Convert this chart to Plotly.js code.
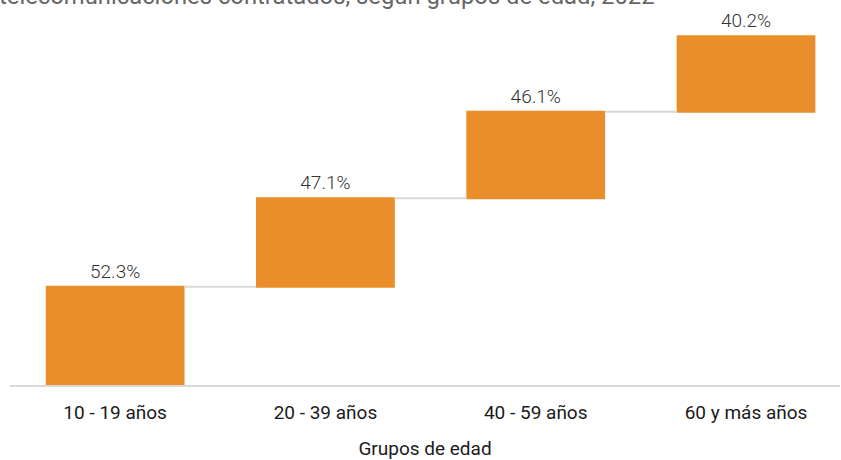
<!DOCTYPE html>
<html>
<head>
<meta charset="utf-8">
<script src="https://cdn.plot.ly/plotly-3.0.1.min.js"></script>
<style>html,body{margin:0;padding:0;background:#fff;}#chart{width:841px;height:460px;}</style>
</head>
<body>
<div id="chart"></div>
<script>
const categories = ["10 - 19 años", "20 - 39 años", "40 - 59 años", "60 y más años"];
const values = [52.3, 47.1, 46.1, 40.2];
const labels = ["52.3%", "47.1%", "46.1%", "40.2%"];
const titleText = "telecomunicaciones contratados, según grupos de edad, 2022";
const xTitle = "Grupos de edad";

const trace = {
  type: "waterfall",
  x: categories,
  y: values,
  measure: values.map(() => "relative"),
  text: labels,
  textposition: "outside",
  texttemplate: "%{text}",
  textfont: {family: "Roboto", size: 19, color: "#333333", weight: 300},
  increasing: {marker: {color: "#EA8E2C"}},
  decreasing: {marker: {color: "#EA8E2C"}},
  connector: {mode: "between", line: {color: "#d9d9d9", width: 2}},
  hoverinfo: "none",
  cliponaxis: false
};

const layout = {
  width: 841, height: 460,
  margin: {l: 10, r: 1, t: 30, b: 75},
  paper_bgcolor: "#ffffff", plot_bgcolor: "#ffffff",
  font: {family: "Roboto", color: "#222"},
  showlegend: false,
  waterfallgap: 0.34,
  annotations: [{
    text: titleText,
    xref: "paper", yref: "paper",
    x: -0.0157, xanchor: "left",
    y: 1.052, yanchor: "bottom",
    showarrow: false,
    font: {family: "Roboto", size: 23.8, color: "#666666"}
  }],
  xaxis: {
    type: "category",
    range: [-0.5, 3.447],
    showline: true, linecolor: "#d9d9d9", linewidth: 2,
    ticks: "", showgrid: false,
    ticklabelstandoff: 9,
    tickfont: {family: "Roboto", size: 19, color: "#1a1a1a"},
    automargin: false,
    title: {text: xTitle, font: {family: "Roboto", size: 19, color: "#1a1a1a"}, standoff: 28}
  },
  yaxis: {
    range: [0, 189], visible: false, showgrid: false, zeroline: false
  }
};

Plotly.newPlot("chart", [trace], layout, {displayModeBar: false, staticPlot: true});
</script>
</body>
</html>
